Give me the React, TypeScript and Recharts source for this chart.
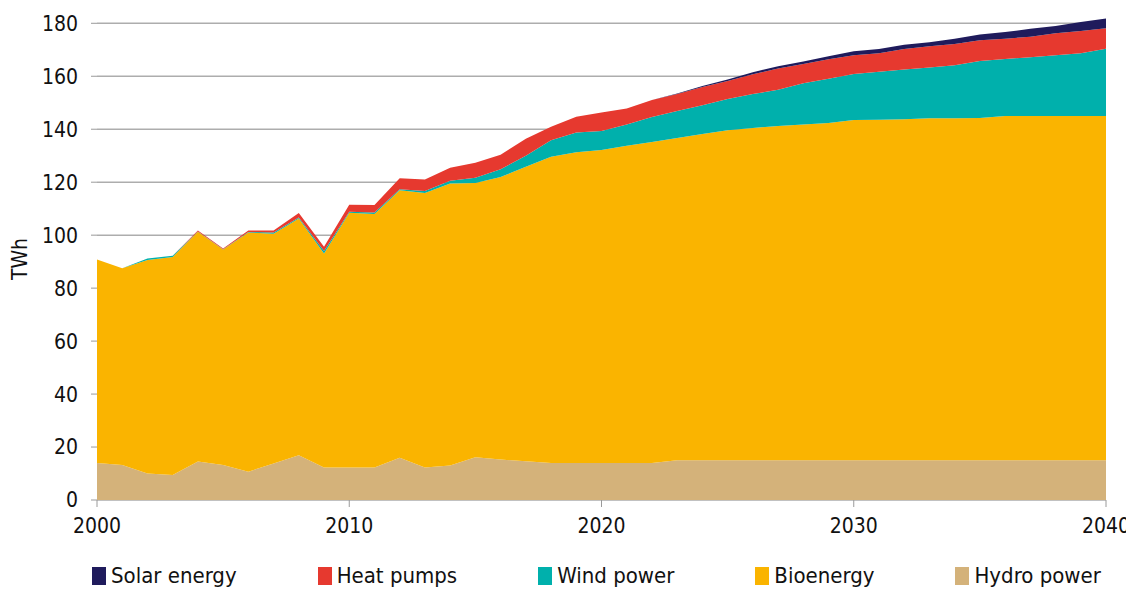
import React from "react";
import {
  AreaChart,
  Area,
  CartesianGrid,
  XAxis,
  YAxis,
  Legend,
} from "recharts";

const years = [
  2000, 2001, 2002, 2003, 2004, 2005, 2006, 2007, 2008, 2009, 2010, 2011, 2012,
  2013, 2014, 2015, 2016, 2017, 2018, 2019, 2020, 2021, 2022, 2023, 2024, 2025,
  2026, 2027, 2028, 2029, 2030, 2031, 2032, 2033, 2034, 2035, 2036, 2037, 2038,
  2039, 2040,
];

const hydro = [
  14, 13.2, 10, 9.4, 14.5, 13.2, 10.7, 13.8, 16.9, 12.3, 12.3, 12.3, 16, 12.3,
  13, 16.1, 15.3, 14.6, 14, 14, 14, 14, 14, 15, 15, 15, 15, 15, 15, 15, 15, 15,
  15, 15, 15, 15, 15, 15, 15, 15, 15,
];

const bio = [
  76.8, 74.3, 80.6, 82.4, 86.8, 81.4, 90.3, 86.7, 89.4, 80.8, 96.2, 95.7, 101,
  103.6, 106.5, 103.6, 106.7, 111.2, 115.6, 117.3, 118.2, 119.8, 121.2, 121.7,
  123.2, 124.6, 125.5, 126.2, 126.8, 127.4, 128.5, 128.6, 128.8, 129.1, 129.1,
  129.2, 130, 130, 130, 130, 130,
];

const wind = [
  0, 0, 0.6, 0.4, 0.1, 0.1, 0.2, 0.5, 0.4, 0.9, 0.3, 0.6, 0.3, 0.8, 1, 2, 2.9,
  4.2, 6.2, 7.5, 7.1, 8, 9.4, 10.2, 10.9, 11.8, 12.8, 13.7, 15.6, 16.7, 17.4,
  18.1, 18.8, 19.2, 20.1, 21.6, 21.5, 22.2, 22.9, 23.7, 25.4,
];

const heat = [
  0, 0, 0, 0, 0.4, 0.3, 0.6, 0.8, 1.7, 1.6, 2.7, 2.8, 4.2, 4.3, 5, 5.6, 5.5,
  6.4, 5.1, 5.9, 7, 6, 6.4, 6.4, 6.8, 6.8, 7.5, 8, 7.2, 7.3, 7, 7, 7.7, 8, 8,
  7.8, 7.7, 7.7, 8.3, 8.4, 7.7,
];

const solar = [
  0, 0, 0, 0, 0, 0, 0, 0, 0, 0, 0, 0, 0, 0, 0, 0, 0, 0, 0, 0, 0, 0, 0, 0.2, 0.4,
  0.6, 0.7, 0.9, 1, 1.2, 1.5, 1.6, 1.6, 1.5, 2, 2.2, 2.5, 3, 2.8, 3.4, 3.7,
];

const xTicks = [2000, 2010, 2020, 2030, 2040];
const yTicks = [0, 20, 40, 60, 80, 100, 120, 140, 160, 180];

const series = [
  { key: "hydro", name: "Hydro power", color: "#d4b27a" },
  { key: "bio", name: "Bioenergy", color: "#fab400" },
  { key: "wind", name: "Wind power", color: "#00b0ac" },
  { key: "heat", name: "Heat pumps", color: "#e6392f" },
  { key: "solar", name: "Solar energy", color: "#1f1b5c" },
];

const data = years.map((year, i) => ({
  year,
  hydro: hydro[i],
  bio: bio[i],
  wind: wind[i],
  heat: heat[i],
  solar: solar[i],
}));

const FONT = "'DejaVu Sans Condensed', 'DejaVu Sans', sans-serif";

const LegendBox = () => {
  // legend lists the series top-down, opposite to the stacking order
  const items = [...series].reverse();
  return (
    <div
      style={{
        height: 59,
        paddingTop: 35,
        paddingLeft: 84,
        boxSizing: "border-box",
        display: "flex",
        alignItems: "flex-start",
        gap: 81,
        fontFamily: FONT,
        fontStretch: "condensed",
        fontSize: 22,
        color: "#111",
        whiteSpace: "nowrap",
      }}
    >
      {items.map((s) => (
        <div
          key={s.key}
          style={{ display: "flex", alignItems: "center", height: 22 }}
        >
          <span
            style={{
              width: 14,
              height: 18,
              background: s.color,
              marginRight: 5,
              display: "inline-block",
              flex: "none",
            }}
          />
          <span style={{ lineHeight: "22px" }}>{s.name}</span>
        </div>
      ))}
    </div>
  );
};

const tickStyle = {
  fill: "#111",
  fontSize: 21,
  fontFamily: FONT,
  fontStretch: "condensed",
};

const App: React.FC = () => {
  return (
    <AreaChart
      width={1126}
      height={581}
      data={data}
      margin={{ top: 10, right: 28, left: 0, bottom: 0 }}
    >
      <CartesianGrid
        vertical={false}
        horizontalValues={yTicks}
        stroke="#adadad"
        strokeWidth={1.5}
      />
      <XAxis
        dataKey="year"
        type="number"
        domain={[2000, 2040]}
        ticks={xTicks}
        axisLine={false}
        tickLine={{ stroke: "#9a9a9a" }}
        tickSize={7}
        tickMargin={11}
        height={30}
        tick={tickStyle}
      />
      <YAxis
        domain={[0, 182]}
        ticks={yTicks}
        width={89}
        axisLine={false}
        tickLine={{ stroke: "#9a9a9a" }}
        tickSize={6}
        tickMargin={13}
        tick={tickStyle}
        label={{
          value: "TWh",
          angle: -90,
          position: "insideLeft",
          offset: 12,
          textAnchor: "middle",
          ...tickStyle,
        }}
      />
      {series.map((s) => (
        <Area
          key={s.key}
          type="linear"
          dataKey={s.key}
          name={s.name}
          stackId="1"
          stroke="none"
          fill={s.color}
          fillOpacity={1}
          isAnimationActive={false}
        />
      ))}
      <Legend verticalAlign="bottom" content={<LegendBox />} />
    </AreaChart>
  );
};

export default App;
